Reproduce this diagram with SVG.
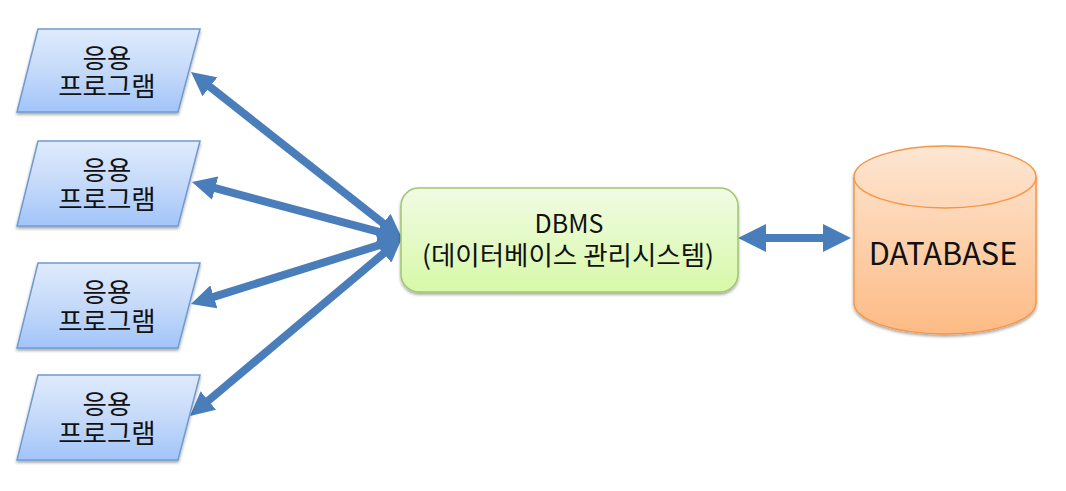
<svg xmlns="http://www.w3.org/2000/svg" width="1066" height="491" viewBox="0 0 1066 491">
<style>
text{font-family:"Noto Sans CJK KR","Liberation Sans",sans-serif;fill:#111;text-anchor:middle}
.app text{font-size:26.5px}
.app path{fill:url(#blue);stroke:#6f9bd0;stroke-width:1.5;filter:url(#sh)}
.conn line{stroke:#4a7ebb;stroke-width:8;marker-start:url(#ah);marker-end:url(#ah)}
.conn line.big{marker-start:url(#ahb);marker-end:url(#ahb)}
</style>
<defs>
<linearGradient id="blue" x1="0" y1="0" x2="0" y2="1"><stop offset="0" stop-color="#dfebfd"/><stop offset="0.5" stop-color="#c5daf9"/><stop offset="1" stop-color="#a2c4fa"/></linearGradient>
<linearGradient id="green" x1="0" y1="0" x2="0" y2="1"><stop offset="0" stop-color="#f1fbe4"/><stop offset="1" stop-color="#d7f9a8"/></linearGradient>
<linearGradient id="orange" x1="0" y1="0" x2="0" y2="1"><stop offset="0" stop-color="#fde6d3"/><stop offset="1" stop-color="#fdbb85"/></linearGradient>
<filter id="sh" x="-10%" y="-10%" width="120%" height="125%"><feDropShadow dx="0" dy="2" stdDeviation="1.8" flood-color="#000" flood-opacity="0.35"/></filter>
<marker id="ah" viewBox="0 0 24 24" refX="1" refY="12" markerUnits="userSpaceOnUse" markerWidth="24" markerHeight="24" orient="auto-start-reverse"><path d="M0 0L24 12L0 24Z" fill="#4a7ebb"/></marker>
<marker id="ahb" viewBox="0 0 28 28" refX="1" refY="14" markerUnits="userSpaceOnUse" markerWidth="28" markerHeight="28" orient="auto-start-reverse"><path d="M0 0L28 14L0 28Z" fill="#4a7ebb"/></marker>
</defs>
<g id="connectors" class="conn">
<line x1="383.9" y1="223.8" x2="209.1" y2="86.2"/>
<line x1="379.8" y1="232.1" x2="214.2" y2="187.9"/>
<line x1="380.1" y1="244.9" x2="212.9" y2="297.1"/>
<line x1="384.4" y1="252.8" x2="207.6" y2="401.2"/>
<line class="big" x1="765" y1="238" x2="824" y2="238"/>
</g>
<g id="app1" class="app"><path d="M38 29H200L178 112H17Z"/><text x="107" y="67.5">응용<tspan x="107" dy="28.5">프로그램</tspan></text></g>
<g id="app2" class="app"><path d="M38 141H200L178 226H17Z"/><text x="107" y="180">응용<tspan x="107" dy="28.5">프로그램</tspan></text></g>
<g id="app3" class="app"><path d="M38 263H200L178 348H17Z"/><text x="107" y="302">응용<tspan x="107" dy="28.5">프로그램</tspan></text></g>
<g id="app4" class="app"><path d="M38 375H200L178 460H17Z"/><text x="107" y="414">응용<tspan x="107" dy="28.5">프로그램</tspan></text></g>
<g id="dbms"><rect x="401" y="188" width="337" height="104" rx="18" fill="url(#green)" stroke="#a3c56f" stroke-width="1.5" filter="url(#sh)"/><text x="569" y="233" font-size="25">DBMS<tspan x="568" dy="32" font-size="26.5">(데이터베이스 관리시스템)</tspan></text></g>
<g id="database"><path d="M854 177V303C854 320 895 334 945 334S1036 320 1036 303V177C1036 160 995 146 945 146S854 160 854 177Z" fill="url(#orange)" stroke="#f79646" stroke-width="1.5" filter="url(#sh)"/><path d="M854 177C854 194 895 208 945 208S1036 194 1036 177" fill="none" stroke="#f79646" stroke-width="1.5"/><text x="943" y="265" font-size="30.7">DATABASE</text></g>
</svg>
